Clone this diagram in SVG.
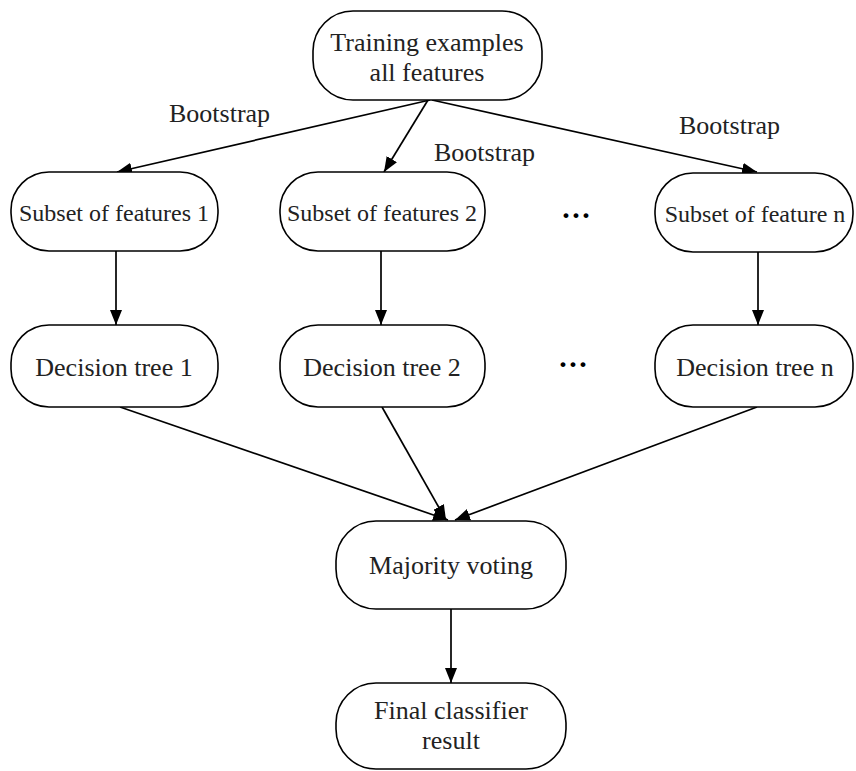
<svg xmlns="http://www.w3.org/2000/svg" width="856" height="771" viewBox="0 0 856 771">
<defs>
<marker id="arr" markerUnits="userSpaceOnUse" markerWidth="16" markerHeight="12" refX="15" refY="6" orient="auto">
<path d="M0,0 L15,6 L0,12 z" fill="#000"/>
</marker>
<style>
.node rect{fill:#fff;stroke:#000;stroke-width:1.6}
.t{font-family:"Liberation Serif","Times New Roman",serif;font-size:26px;fill:#222;text-anchor:middle}
.s{font-size:24px}
.lbl{font-family:"Liberation Serif","Times New Roman",serif;font-size:26px;fill:#222}
#connectors line{stroke:#000;stroke-width:1.7;marker-end:url(#arr)}
.dots{font-family:"Liberation Serif",serif;font-size:30px;fill:#000;font-weight:bold}
</style>
</defs>
<rect width="856" height="771" fill="#fff"/>
<g id="connectors">
<line x1="430" y1="100" x2="117" y2="172"/>
<line x1="428" y1="100" x2="384" y2="172"/>
<line x1="432" y1="100" x2="757" y2="172"/>
<line x1="116" y1="251" x2="116" y2="325"/>
<line x1="381" y1="251" x2="381" y2="325"/>
<line x1="758" y1="252" x2="758" y2="325"/>
<line x1="120" y1="407" x2="448" y2="520"/>
<line x1="382" y1="407" x2="446" y2="520"/>
<line x1="757" y1="407" x2="455" y2="520"/>
<line x1="451" y1="609" x2="451" y2="683"/>
</g>
<text class="lbl" x="169" y="122">Bootstrap</text>
<text class="lbl" x="434" y="161">Bootstrap</text>
<text class="lbl" x="679" y="134">Bootstrap</text>
<g id="n-top" class="node">
<rect x="313" y="11" width="229" height="89" rx="40" ry="40"/>
<text class="t" x="427" y="51">Training examples</text>
<text class="t" x="427" y="81">all features</text>
</g>
<g id="n-sub1" class="node">
<rect x="11" y="172" width="207" height="79" rx="38" ry="38"/>
<text class="t s" x="114" y="221">Subset of features 1</text>
</g>
<g id="n-sub2" class="node">
<rect x="280" y="172" width="205" height="79" rx="38" ry="38"/>
<text class="t s" x="382" y="221">Subset of features 2</text>
</g>
<g id="n-subn" class="node">
<rect x="655" y="173" width="198" height="79" rx="38" ry="38"/>
<text class="t s" x="755" y="222">Subset of feature n</text>
</g>
<text class="dots" x="561" y="225">···</text>
<g id="n-dt1" class="node">
<rect x="11" y="325" width="207" height="82" rx="38" ry="38"/>
<text class="t" x="114" y="376">Decision tree 1</text>
</g>
<g id="n-dt2" class="node">
<rect x="280" y="325" width="205" height="82" rx="38" ry="38"/>
<text class="t" x="382" y="376">Decision tree 2</text>
</g>
<g id="n-dtn" class="node">
<rect x="655" y="325" width="198" height="82" rx="38" ry="38"/>
<text class="t" x="755" y="376">Decision tree n</text>
</g>
<text class="dots" x="558" y="374">···</text>
<g id="n-vote" class="node">
<rect x="336" y="521" width="230" height="88" rx="40" ry="40"/>
<text class="t" x="451" y="574">Majority voting</text>
</g>
<g id="n-final" class="node">
<rect x="336" y="683" width="230" height="86" rx="40" ry="40"/>
<text class="t" x="451" y="719">Final classifier</text>
<text class="t" x="451" y="749">result</text>
</g>
</svg>
